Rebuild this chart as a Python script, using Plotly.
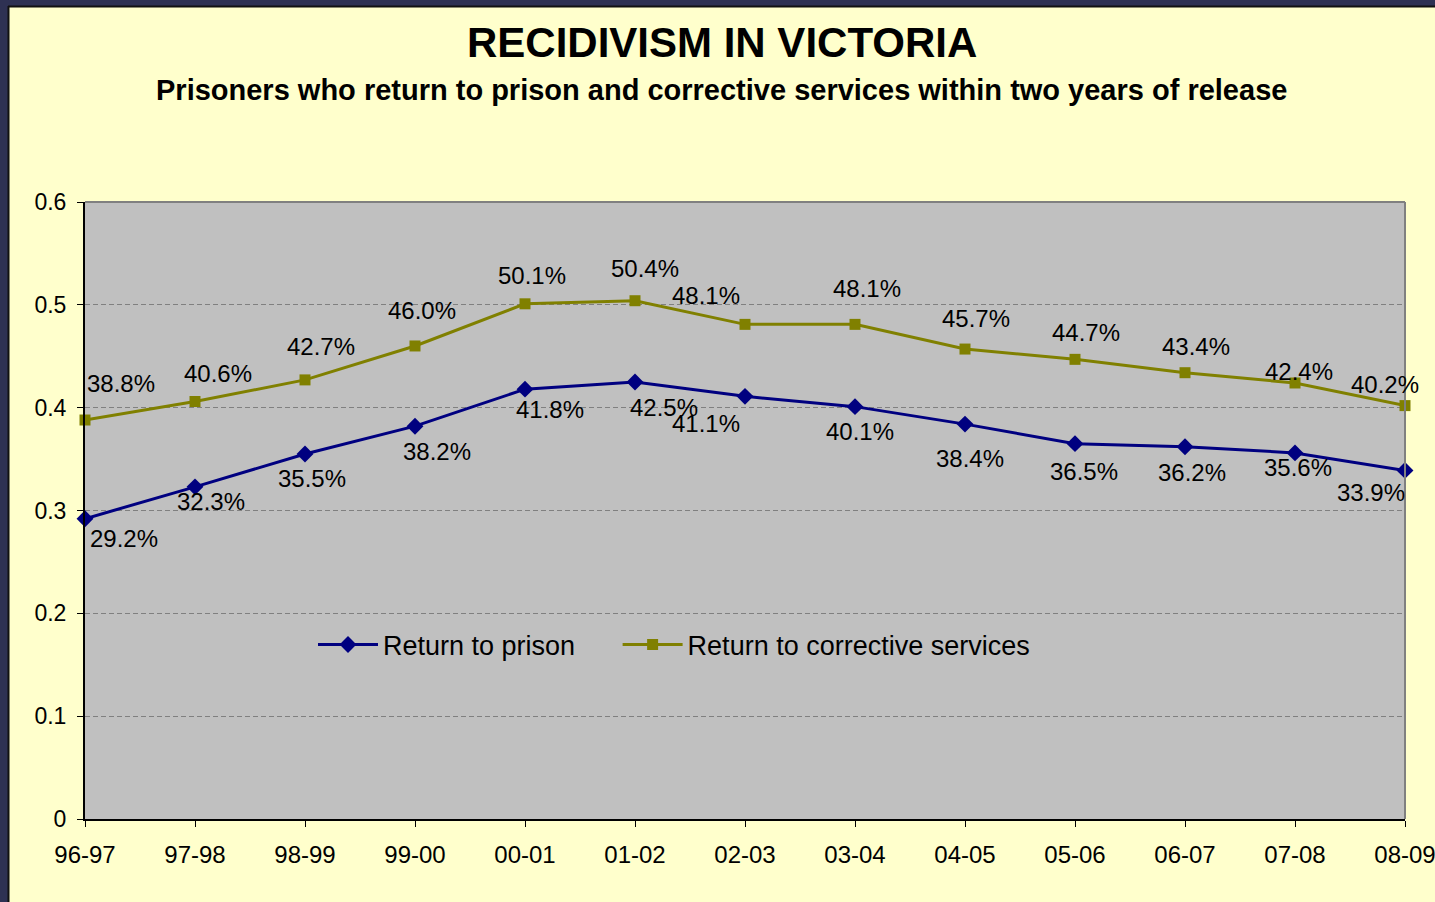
import plotly.graph_objects as go

# ---- data ----
periods = ["96-97", "97-98", "98-99", "99-00", "00-01", "01-02", "02-03",
           "03-04", "04-05", "05-06", "06-07", "07-08", "08-09"]
return_to_prison = [29.2, 32.3, 35.5, 38.2, 41.8, 42.5, 41.1, 40.1, 38.4, 36.5, 36.2, 35.6, 33.9]
return_to_corrective = [38.8, 40.6, 42.7, 46.0, 50.1, 50.4, 48.1, 48.1, 45.7, 44.7, 43.4, 42.4, 40.2]

# label offsets (pixels, dx right, dy down) - layout only
prison_off = [(39, 20), (16, 15), (7, 25), (22, 25), (25, 20), (29, 26), (-39, 27),
              (5, 25), (5, 34), (9, 28), (7, 26), (3, 15), (-34, 22)]
corr_off = [(36, -37), (23, -28), (16, -33), (7, -35), (7, -28), (10, -32), (-39, -29),
            (12, -36), (11, -31), (11, -27), (11, -26), (4, -11), (-20, -21)]

FONT = "Liberation Sans, Arial, sans-serif"
W, H = 1435, 902
L, R, T, B = 85, 30, 202, 83
PW, PH = W - L - R, H - T - B

def xp(px):
    return (px - L) / PW

def yp(py):
    return 1 - (py - T) / PH

NAVY = "#000080"
OLIVE = "#808000"
GAP = "&nbsp;" * 5

fig = go.Figure()
fig.add_trace(go.Scatter(
    x=periods, y=[v / 100 for v in return_to_prison], name="Return to prison" + GAP,
    mode="lines+markers", line=dict(color=NAVY, width=3),
    marker=dict(symbol="diamond", size=13, color=NAVY), cliponaxis=False))
fig.add_trace(go.Scatter(
    x=periods, y=[v / 100 for v in return_to_corrective], name="Return to corrective services",
    mode="lines+markers", line=dict(color=OLIVE, width=3),
    marker=dict(symbol="square", size=11, color=OLIVE), cliponaxis=False))

anns = []
for vals, offs in ((return_to_prison, prison_off), (return_to_corrective, corr_off)):
    for p, v, (dx, dy) in zip(periods, vals, offs):
        anns.append(dict(x=p, y=v / 100, xref="x", yref="y", text=f"{v:.1f}%",
                         showarrow=False, xshift=dx, yshift=-dy,
                         font=dict(family=FONT, size=24, color="black")))

anns.append(dict(x=xp(722), y=yp(43), xref="paper", yref="paper",
                 text="<b>RECIDIVISM IN VICTORIA</b>", showarrow=False,
                 font=dict(family=FONT, size=42, color="black"),
                 xanchor="center", yanchor="middle"))
anns.append(dict(x=xp(721), y=yp(90), xref="paper", yref="paper",
                 text="<b>Prisoners who return to prison and corrective services within two years of release</b>",
                 showarrow=False, font=dict(family=FONT, size=29, color="black"),
                 xanchor="center", yanchor="middle"))

shapes = [
    # plot border top/right (gray)
    dict(type="line", xref="paper", yref="paper", x0=0, x1=1, y0=1, y1=1,
         line=dict(color="#808080", width=2)),
    dict(type="line", xref="paper", yref="paper", x0=1, x1=1, y0=0, y1=1,
         line=dict(color="#808080", width=2)),
    # navy frame (top and left only)
    dict(type="rect", xref="paper", yref="paper", x0=xp(-5), x1=xp(W + 5), y0=yp(-5), y1=yp(6),
         fillcolor="#2e3153", line=dict(width=0)),
    dict(type="rect", xref="paper", yref="paper", x0=xp(-5), x1=xp(8), y0=yp(-5), y1=yp(H + 5),
         fillcolor="#2e3153", line=dict(width=0)),
    dict(type="line", xref="paper", yref="paper", x0=xp(8), x1=xp(W + 5), y0=yp(6.5), y1=yp(6.5),
         line=dict(color="#111111", width=2)),
    dict(type="line", xref="paper", yref="paper", x0=xp(8.5), x1=xp(8.5), y0=yp(6), y1=yp(H + 5),
         line=dict(color="#111111", width=2)),
]

fig.update_layout(
    width=W, height=H,
    margin=dict(l=L, r=R, t=T, b=B, autoexpand=False),
    paper_bgcolor="#FFFFCC", plot_bgcolor="#C0C0C0",
    font=dict(family=FONT, size=23, color="black"),
    showlegend=True,
    legend=dict(orientation="h", x=xp(674), y=yp(645), xanchor="center", yanchor="middle",
                bgcolor="rgba(0,0,0,0)", font=dict(family=FONT, size=27, color="black"),
                itemwidth=60, tracegroupgap=0),
    annotations=anns, shapes=shapes,
    xaxis=dict(type="category", range=[0, 12], showgrid=False, showline=True,
               linecolor="black", linewidth=2, ticks="outside", ticklen=6,
               tickcolor="black", tickfont=dict(family=FONT, size=24, color="black"),
               ticklabelstandoff=7, zeroline=False, automargin=False),
    yaxis=dict(range=[0, 0.6], dtick=0.1, tick0=0, showgrid=True, gridcolor="#808080",
               griddash="5px,3px", gridwidth=1, showline=True, linecolor="black", linewidth=2,
               ticks="outside", ticklen=6, tickcolor="black",
               tickfont=dict(family=FONT, size=23, color="black"), ticklabelstandoff=6,
               zeroline=False, automargin=False),
)

fig.write_html("out.html", config={"displayModeBar": False},
               post_script="document.body.style.margin='0';document.body.style.overflow='hidden';")
